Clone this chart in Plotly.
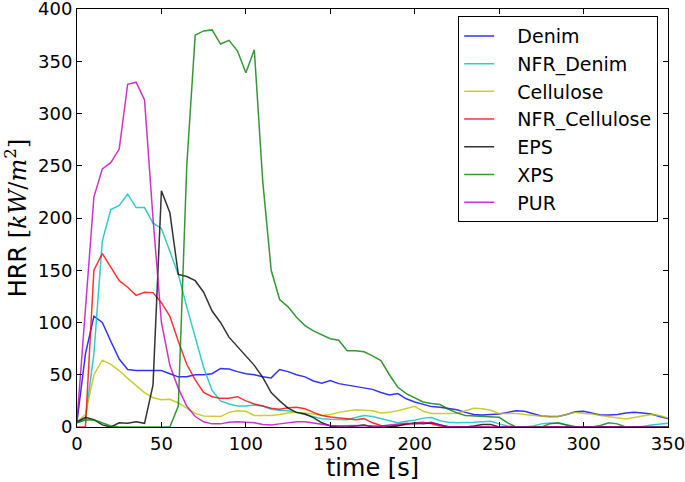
import plotly.graph_objects as go

time_s = list(range(0, 351, 5))

denim = [5, 70, 106, 100, 82, 65, 55, 54, 54, 54, 54, 51, 48, 48, 50, 50, 51, 56, 55.5, 53,
         51, 50, 48, 47, 55, 53, 50, 48, 44, 42, 44.5, 41.5, 40, 38.5, 37, 36, 33, 30.7, 32, 27,
         24, 22, 19.5, 19, 18, 16.5, 14, 12, 11.5, 12, 12.5, 14, 15.5, 15, 13, 10.5, 10, 10, 12, 14.5,
         15, 13, 11.5, 11.5, 12, 13.5, 14, 13.5, 12.5, 10, 8]
nfr_denim = [4, 8, 70, 178, 208, 212, 223, 210, 210, 195, 190, 167, 146, 115, 87, 57, 35, 25, 22, 20,
             20, 21, 20, 17, 16, 15.5, 14, 12, 10, 8, 7.5, 7, 7, 9, 11, 10, 8, 6, 4, 5.5,
             6.5, 8.5, 9, 6, 4.5, 4, 4, 4.5, 5, 5.5, 3, 1, 0, 0, 1, 3, 3.8, 3.5, 2, 0.5,
             0, 0, 0, 0, 0, 0, 0, 0.5, 2, 3, 3.5]
cellulose = [5, 12, 50, 64, 60, 54, 46.5, 39.5, 33, 28, 26, 26.5, 23, 18, 13, 10.5, 10, 10, 14, 15.5,
             15, 11, 11, 11, 12, 13.5, 14, 13.5, 12.5, 11, 12, 14, 15, 16.6, 16, 15.5, 13.5, 14, 15.5, 18,
             19.8, 15, 13, 13, 12.8, 13, 15.5, 18, 17.5, 16, 13, 12.8, 13, 12, 11, 10, 9.6, 10, 12, 14,
             13, 12.4, 11, 9.9, 8.5, 7.7, 9, 10.5, 12, 11, 8.6]
nfr_cellulose = [0, 0, 150, 166, 153, 140, 133.7, 126, 129, 128.6, 119, 106, 82, 60, 45, 33, 29, 27.4, 27.5, 29,
                 25, 22, 20, 18, 17, 18.5, 19, 17.5, 14, 11, 9.5, 9, 8, 7, 8, 4, 1.5, 1, 1.5, 2.5,
                 3.8, 4.5, 3, 1, 0, 0, 0, 0, 0, 0, 0, 0, 0, 0, 0, 0, 0, 0, 0, 0,
                 0, 0, 0, 0, 0, 0, 0, 0, 0, 0, 0]
eps = [5, 9.3, 7, 2, 0, 4, 3.5, 5, 3.5, 40, 226, 205, 146, 144, 140, 129, 111, 100, 86, 77,
       68, 59, 47.5, 33, 25, 18, 14, 12.5, 9, 4, 1, 0, 0, 1, 2, 0, 0, 0, 1, 3,
       3.5, 3, 4, 2, 0, 0, 0, 1, 2.5, 2.5, 0, 0, 0, 0, 0, 0, 0, 0, 0, 0,
       0, 0, 0, 0, 0, 0, 0, 0, 0, 0, 0]
xps = [4, 6.7, 7, 4, 1, 0, 0, 0, 0, 0, 0, 0, 20, 250, 375, 379, 380, 366.5, 370, 360,
       339, 361, 235, 150, 122, 115, 105, 97, 92, 88, 84.5, 83, 73, 73, 72, 68, 63.5, 50, 38, 32,
       28, 24, 22.5, 21.5, 17, 13.5, 11, 10.5, 10, 10, 9.3, 4, 0, 0, 0, 0, 3, 4, 2, 0,
       0, 0, 1.5, 4, 3, 0, 0, 0, 0, 0, 0]
pur = [6, 110, 220, 247, 253, 266, 328, 330, 313, 200, 100, 59, 37, 20, 10, 5, 3, 3, 4.5, 5,
       4.5, 4, 2.5, 2, 3, 4, 5, 5, 4, 3, 1.5, 1.3, 1.5, 2, 1.5, 1, 1, 2, 3, 3.5,
       3, 4, 4.5, 2, 0.5, 0, 0, 0, 0, 0, 0, 0, 0, 0, 0, 0, 0, 0, 0, 0,
       0, 0, 0, 0, 0, 0, 0, 0, 0, 0, 0]

series = [
    ("Denim", denim, "rgba(0,0,255,0.8)"),
    ("NFR_Denim", nfr_denim, "rgba(0,191,191,0.8)"),
    ("Cellulose", cellulose, "rgba(191,191,0,0.8)"),
    ("NFR_Cellulose", nfr_cellulose, "rgba(255,0,0,0.8)"),
    ("EPS", eps, "rgba(0,0,0,0.8)"),
    ("XPS", xps, "rgba(0,128,0,0.8)"),
    ("PUR", pur, "rgba(191,0,191,0.8)"),
]

NB = "\u00a0"
fig = go.Figure()
for name, vals, col in series:
    fig.add_trace(go.Scatter(x=time_s, y=vals, mode="lines", name=NB * 3 + name,
                             legendgroup=name, line=dict(color=col, width=1.5)))

font = "DejaVu Sans"
axis_common = dict(showline=True, linecolor="black", linewidth=1, mirror="allticks",
                   ticks="inside", ticklen=5, tickcolor="black", showgrid=False, zeroline=False,
                   automargin=False, ticklabeloverflow="allow",
                   tickfont=dict(family=font, size=18, color="black"))

fig.update_layout(
    width=685, height=482,
    margin=dict(l=77, r=17, t=9, b=55),
    paper_bgcolor="white", plot_bgcolor="white",
    font=dict(family=font, color="black"),
    xaxis=dict(range=[0, 350], tickvals=list(range(0, 351, 50)),
               title=dict(text="time [s]", font=dict(size=24), standoff=9), **axis_common),
    yaxis=dict(range=[0, 400], tickvals=list(range(0, 401, 50)),
               title=dict(text='HRR <span style="font-family:DejaVu Serif">[<i>kW</i>/<i>m</i><sup>2</sup>]</span>',
                          font=dict(size=24), standoff=8), **axis_common),
    legend=dict(x=0.645, y=0.983, xanchor="left", yanchor="top", bordercolor="black", borderwidth=1,
                bgcolor="white", font=dict(size=19, family=font), tracegroupgap=0),
    showlegend=True,
)

fig.write_html("out.html", config={"displayModeBar": False},
               post_script="document.body.style.margin='0';document.body.style.overflow='hidden';")
